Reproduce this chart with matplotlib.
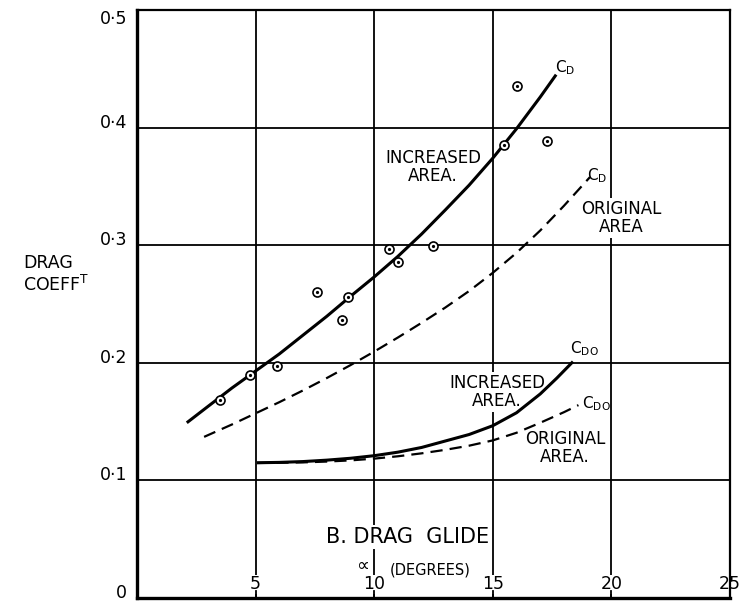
import matplotlib
matplotlib.use("Agg")
import matplotlib.pyplot as plt

# Drag coefficient vs incidence (degrees)
# C_D, increased area (solid)
cd_inc_x = [2.1, 3.0, 4.0, 5.0, 6.0, 7.0, 8.0, 9.0, 10.0, 11.0, 12.0, 13.0, 14.0, 15.0, 16.0, 17.0, 17.67]
cd_inc_y = [0.149, 0.163, 0.1785, 0.193, 0.2075, 0.2235, 0.2395, 0.2565, 0.273, 0.2905,
            0.3095, 0.330, 0.351, 0.374, 0.399, 0.426, 0.445]

# C_D, original area (dashed)
cd_org_x = [2.83, 4.0, 5.0, 6.0, 7.0, 8.0, 9.0, 10.0, 11.0, 12.0, 13.0, 14.0, 15.0, 16.0, 17.0, 18.0, 19.1]
cd_org_y = [0.137, 0.1475, 0.157, 0.1665, 0.1765, 0.187, 0.198, 0.2095, 0.2215, 0.234,
            0.247, 0.261, 0.2765, 0.2935, 0.3125, 0.3335, 0.358]

# C_D0, increased area (solid)
cdo_inc_x = [5.06, 6.0, 7.0, 8.0, 9.0, 10.0, 11.0, 12.0, 13.0, 14.0, 15.0, 16.0, 17.0, 17.7, 18.38]
cdo_inc_y = [0.115, 0.1153, 0.116, 0.1172, 0.1188, 0.121, 0.124, 0.128, 0.1335, 0.139,
             0.1465, 0.1575, 0.1735, 0.187, 0.201]

# C_D0, original area (dashed)
cdo_org_x = [5.06, 6.0, 7.0, 8.0, 9.0, 10.0, 11.0, 12.0, 13.0, 14.0, 15.0, 16.0, 17.0, 18.0, 18.61]
cdo_org_y = [0.1148, 0.115, 0.1153, 0.116, 0.117, 0.1185, 0.1205, 0.123, 0.126, 0.1295,
             0.134, 0.1405, 0.149, 0.158, 0.164]

# test points
pts_x = [3.50, 4.76, 5.89, 7.58, 8.64, 8.91, 10.63, 10.99, 12.49, 15.47, 16.0, 17.3]
pts_y = [0.168, 0.190, 0.197, 0.260, 0.236, 0.256, 0.297, 0.286, 0.299, 0.385, 0.435, 0.389]

x_ticks = [5, 10, 15, 20, 25]
x_tick_labels = ["5", "10", "15", "20", "25"]
y_ticks = [0, 0.1, 0.2, 0.3, 0.4, 0.5]
y_tick_labels = ["0", "0·1", "0·2", "0·3", "0·4", "0·5"]

fig = plt.figure(figsize=(7.53, 6.05), dpi=100)
ax = fig.add_axes([0.1819, 0.0116, 0.7876, 0.9719])
ax.set_xlim(0, 25)
ax.set_ylim(0, 0.5)

# grid
ax.set_axisbelow(True)
ax.set_xticks(x_ticks[:-1])
ax.set_yticks(y_ticks[1:-1])
ax.grid(True, color="black", linewidth=1.3)
ax.tick_params(axis="both", which="both", length=0, labelbottom=False, labelleft=False)

for side in ["left", "bottom"]:
    ax.spines[side].set_linewidth(2.4)
for side in ["top", "right"]:
    ax.spines[side].set_linewidth(1.6)

# short inward ticks on the bottom axis
for xt in x_ticks:
    ax.plot([xt, xt], [0, 0.006], color="black", lw=1.3, zorder=2, clip_on=False)

# curves
ax.plot(cd_inc_x, cd_inc_y, color="black", lw=2.2, zorder=2, solid_capstyle="butt")
ax.plot(cd_org_x, cd_org_y, color="black", lw=1.6, dashes=(5.5, 3.2), zorder=2)
ax.plot(cdo_inc_x, cdo_inc_y, color="black", lw=2.2, zorder=2, solid_capstyle="butt")
ax.plot(cdo_org_x, cdo_org_y, color="black", lw=1.6, dashes=(5.5, 3.2), zorder=2)

ax.plot(pts_x, pts_y, linestyle="none", marker="o", markersize=6.5,
        markerfacecolor="white", markeredgecolor="black", markeredgewidth=1.2, zorder=3)
ax.plot(pts_x, pts_y, linestyle="none", marker="o", markersize=1.3,
        color="black", zorder=4)

box = dict(facecolor="white", edgecolor="none", pad=1.5)
lab = dict(fontsize=12, ha="center", va="center", linespacing=1.05, zorder=1, bbox=box)

ax.text(12.48, 0.3665, "INCREASED\nAREA.", **lab)
ax.text(20.4, 0.323, "ORIGINAL\nAREA", **lab)
ax.text(15.18, 0.1752, "INCREASED\nAREA.", **lab)
ax.text(18.04, 0.1276, "ORIGINAL\nAREA.", **lab)

ax.text(17.62, 0.4507, r"$\mathrm{C_D}$", fontsize=11, ha="left", va="center")
ax.text(18.97, 0.3588, r"$\mathrm{C_D}$", fontsize=11, ha="left", va="center")
ax.text(18.26, 0.2117, r"$\mathrm{C_{DO}}$", fontsize=11, ha="left", va="center")
ax.text(18.76, 0.165, r"$\mathrm{C_{DO}}$", fontsize=11, ha="left", va="center")

# title and axis name inside the plot
ax.text(11.42, 0.052, "B. DRAG  GLIDE", fontsize=15, ha="center", va="center",
        zorder=1, bbox=box)
ax.text(12.35, 0.0235, "(DEGREES)", fontsize=10.5, ha="center", va="center",
        zorder=1, bbox=box)

# x tick labels sit inside the frame
for xt, xl in zip(x_ticks, x_tick_labels):
    ax.text(xt, 0.023, xl, transform=ax.get_xaxis_transform(), fontsize=12.5,
            ha="center", va="center", zorder=1,
            bbox=dict(facecolor="white", edgecolor="none", pad=0.5))

ax.text(9.5, 0.0272, "∝", fontsize=13, ha="center", va="center", zorder=5)

# y tick labels, just above their grid lines
for yt, yl in zip(y_ticks, y_tick_labels):
    ax.text(-0.017, yt, yl, transform=ax.get_yaxis_transform(), fontsize=12.5,
            ha="right", va="top" if yt == 0.5 else "baseline")

fig.text(23 / 753, 1 - 263 / 605, "DRAG", fontsize=12.5, ha="left", va="center")
fig.text(23 / 753, 1 - 285 / 605, "COEFF$^{\\mathrm{T}}$", fontsize=12.5, ha="left", va="center")

fig.savefig("out.png", dpi=100)
